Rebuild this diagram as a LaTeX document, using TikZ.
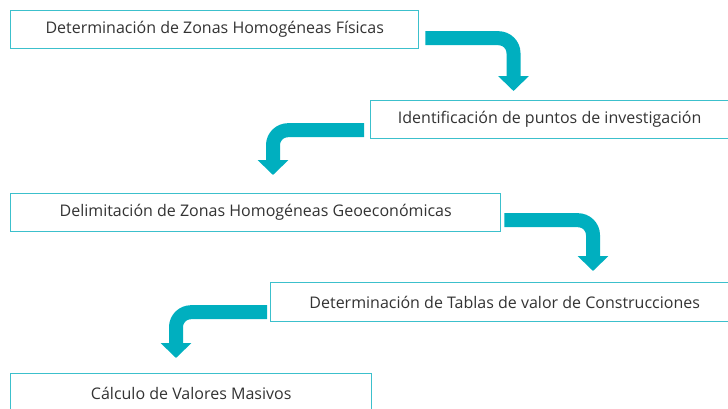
\documentclass[tikz,border=0pt]{standalone}
\usepackage{fontspec}
\setmainfont{Open Sans}
\usepackage{tikz}
\usetikzlibrary{arrows.meta,positioning}

\definecolor{flowteal}{HTML}{00AFBF}
\definecolor{boxline}{HTML}{3CC0CC}
\definecolor{boxtext}{HTML}{333333}

\begin{document}
\begin{tikzpicture}[x=1pt,y=1pt,
  stage/.style={draw=boxline, line width=1.4pt, fill=white, anchor=north west,
    minimum height=38pt, inner sep=0pt, text=boxtext,
    font=\fontsize{16}{19}\selectfont},
  flow/.style={draw=flowteal, line width=14pt, rounded corners=15pt,
    -{Triangle[width=30pt,length=15pt]}, flowteal}]
  \useasboundingbox (0,0) rectangle (728,-408);
  \clip (0,0) rectangle (728,-408);

  \node [stage, minimum width=408pt] (z1) at (10,-10) {Determinación de Zonas Homogéneas Físicas};
  \node [stage, minimum width=358pt] (z2) at (370,-100) {Identificación de puntos de investigación};
  \node [stage, minimum width=490pt] (z3) at (10,-193) {Delimitación de Zonas Homogéneas Geoeconómicas};
  \node [stage, minimum width=468pt, minimum height=39pt] (z4) at (270,-282) {Determinación de Tablas de valor de Construcciones};
  \node [stage, minimum width=361pt, minimum height=40pt] (z5) at (10,-373) {Cálculo de Valores Masivos};

  % tips of the bent arrows
  \coordinate (t1) at (513.5,-91);
  \coordinate (t2) at (273,-175);
  \coordinate (t3) at (593,-271);
  \coordinate (t4) at (176,-358);

  \draw [flow] ([shift={(6,-8.5)}]z1.east) -| (t1);
  \draw [flow] ([shift={(-6,-10.5)}]z2.west) -| (t2);
  \draw [flow] ([shift={(3,-7.5)}]z3.east) -| (t3);
  \draw [flow] ([shift={(-3,-10)}]z4.west) -| (t4);
\end{tikzpicture}
\end{document}
